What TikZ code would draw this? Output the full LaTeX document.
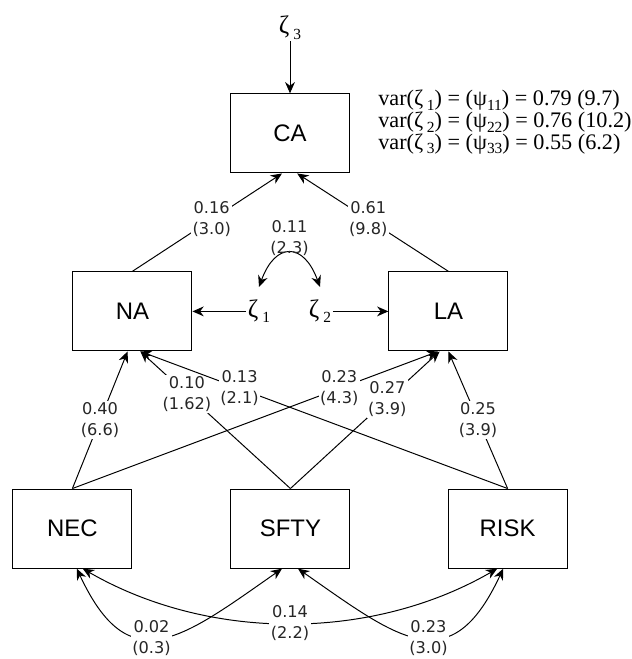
\documentclass[tikz,border=0pt]{standalone}
\usepackage{fontspec}
\setmainfont{Liberation Serif}
\newfontfamily\boxfont{Liberation Sans}
\newfontfamily\lblfont{DejaVu Sans}
\usetikzlibrary{arrows.meta}
\newcommand{\sbs}[1]{\raisebox{-.45ex}{\fontsize{11}{11}\selectfont #1}}

\begin{document}
\begin{tikzpicture}[
    factor/.style={draw, line width=0.8pt, minimum width=2.975cm, minimum height=1.975cm,
        font=\boxfont\fontsize{17}{20}\selectfont},
    arr/.style={line width=0.7pt, -{Stealth[length=8pt,width=7pt]}},
    dbl/.style={line width=0.7pt, {Stealth[length=8pt,width=7pt]}-{Stealth[length=8pt,width=7pt]}},
    coef/.style={fill=white, align=center, inner sep=1pt, text=black!85,
        font=\lblfont\fontsize{11.5}{15}\selectfont},
    dist/.style={inner sep=1pt, font=\fontsize{18}{18}\selectfont}]
    %\draw[help lines] (0,0) grid (16,17);
    \useasboundingbox (0,0) rectangle (15.8,16.475);

    \node[factor] (CA) at (7.25,13.14) {CA};
    \node[factor] (NA) at (3.31,8.69) {NA};
    \node[factor] (LA) at (11.21,8.69) {LA};
    \node[factor] (NEC) at (1.81,3.26) {NEC};
    \node[factor] (SFTY) at (7.26,3.26) {SFTY};
    \node[factor] (RISK) at (12.69,3.26) {RISK};

    \node[dist] (z3) at (7.25,15.78) {ζ\,\sbs{3}};
    \node[dist] (z1) at (6.475,8.69) {ζ\,\sbs{1}};
    \node[dist] (z2) at (8.0,8.69) {ζ\,\sbs{2}};

    \node[anchor=west, align=left, inner sep=0pt, font=\fontsize{15.8}{15.4}\selectfont] (psi) at (9.45,13.425) {
        var(ζ\,\sbs{1}) = (ψ\sbs{11}) = 0.79 (9.7)\\
        var(ζ\,\sbs{2}) = (ψ\sbs{22}) = 0.76 (10.2)\\
        var(ζ\,\sbs{3}) = (ψ\sbs{33}) = 0.55 (6.2)
    };

    % disturbances
    \draw[arr] (z3) -- (CA);
    \draw[arr] (z1) -- (NA);
    \draw[arr] (z2) -- (LA);
    \draw[dbl] ([yshift=8pt]z1.north) .. controls +(70:1.2) and +(110:1.2) ..
        node[pos=.5, above, yshift=-2pt, inner sep=0pt, align=center, text=black!85,
            font=\lblfont\fontsize{11.5}{15}\selectfont] {0.11\\(2.3)}
        ([yshift=8pt]z2.north);

    % structural paths
    \draw[arr] (NA.north) -- node[coef,pos=.53] {0.16\\(3.0)} ([xshift=-0.2cm]CA.south);
    \draw[arr] (LA.north) -- node[coef,pos=.53] {0.61\\(9.8)} ([xshift=0.18cm]CA.south);
    \draw[arr] (NEC.north) -- node[coef,pos=.5] {0.40\\(6.6)} ([xshift=-0.12cm]NA.south);
    \draw[arr] (SFTY.north) -- node[coef,pos=.69] {0.10\\(1.62)} ([xshift=0.2cm]NA.south);
    \draw[arr] (RISK.north) -- node[coef,pos=.73] {0.13\\(2.1)} ([xshift=0.2cm]NA.south);
    \draw[arr] (NEC.north) -- node[coef,pos=.73] {0.23\\(4.3)} ([xshift=-0.26cm]LA.south);
    \draw[arr] (SFTY.north) -- node[coef,pos=.65] {0.27\\(3.9)} ([xshift=-0.22cm]LA.south);
    \draw[arr] (RISK.north) -- node[coef,pos=.5] {0.25\\(3.9)} (LA.south);

    % covariances
    \draw[dbl] ([xshift=0.11cm]NEC.south) to[out=-65,in=-145,looseness=1.55]
        node[coef,pos=.45] {0.02\\(0.3)} ([xshift=-0.21cm]SFTY.south);
    \draw[dbl] ([xshift=0.26cm]NEC.south) to[out=-30,in=-150,looseness=0.9]
        node[coef,pos=.5] {0.14\\(2.2)} ([xshift=-0.26cm]RISK.south);
    \draw[dbl] ([xshift=0.19cm]SFTY.south) to[out=-35,in=-115,looseness=1.55]
        node[coef,pos=.55] {0.23\\(3.0)} ([xshift=-0.11cm]RISK.south);
\end{tikzpicture}
\end{document}
